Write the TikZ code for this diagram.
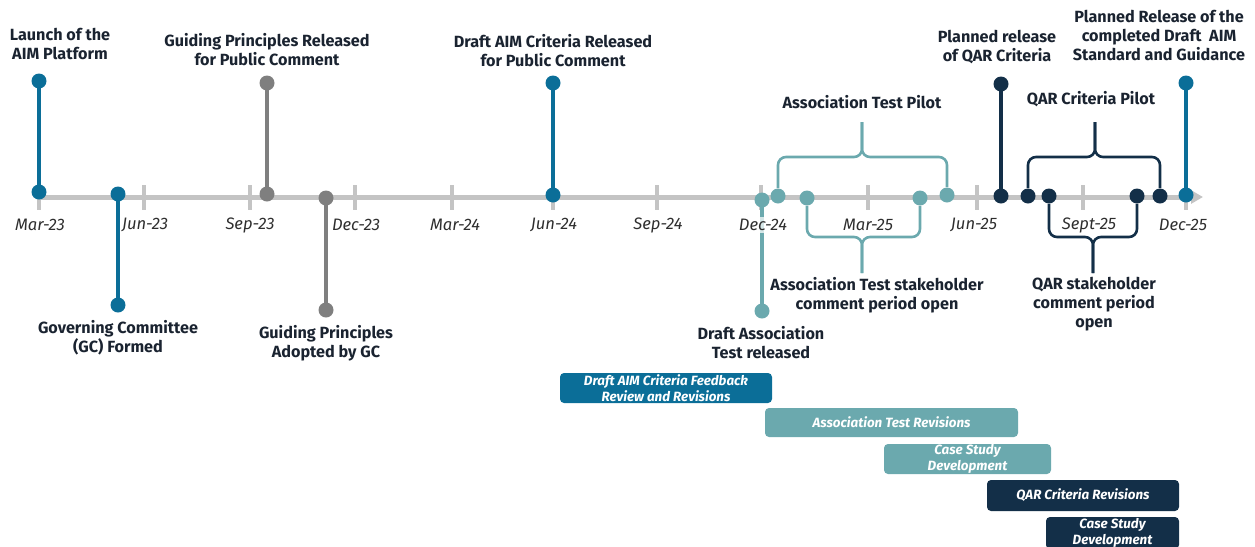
\documentclass[tikz,border=0pt]{standalone}
\usepackage{fontspec}
\setmainfont{Fira Sans}
\usetikzlibrary{arrows.meta}
\definecolor{aimblue}{HTML}{0B6E98}
\definecolor{aimteal}{HTML}{6BA9AE}
\definecolor{aimnavy}{HTML}{132F48}
\definecolor{aimgray}{HTML}{7F7F7F}
\definecolor{axisgray}{HTML}{C4C4C4}
\definecolor{ink}{HTML}{1A2330}
\definecolor{datec}{HTML}{2E2E2E}
\tikzset{
  dot/.style={circle,fill=#1,inner sep=0pt,minimum size=7.5pt},
  stem/.style={draw=#1,line width=2pt,shorten <=-1pt,shorten >=-1pt},
  brc/.style={draw=#1,line width=1.3pt,rounded corners=4pt},
  lbl/.style={text=ink,font=\fontsize{8.1}{9.5}\selectfont\bfseries,align=center,inner sep=0pt},
  tlbl/.style={text=datec,font=\fontsize{8.3}{9}\selectfont\itshape,inner sep=1pt},
  bar/.style={fill=#1,rounded corners=2pt,text=white,font=\fontsize{6.7}{8}\selectfont\bfseries\itshape,align=center,inner sep=0pt},
}
\begin{document}
\begin{tikzpicture}[x=0.5pt,y=-0.5pt]
\useasboundingbox (0,0) rectangle (1255,547);
% time axis
\coordinate (ax0) at (39,197);
\coordinate (ax1) at (1203,197);
\draw[axisgray,line width=2.5pt,-{Triangle[width=6.5pt,length=6pt]}] (ax0) -- (ax1);
\foreach \x/\d/\lx [count=\i] in {39/Mar-23/40,144/Jun-23/145,250/Sep-23/250,355/Dec-23/356,
    452/Mar-24/455,553/Jun-24/554,657/Sep-24/658,868/Mar-25/868,977/Jun-25/974,
    1083/Sept-25/1089,1186/Dec-25/1183}{
  \draw[axisgray,line width=2pt] (\x,185) -- (\x,210);
  \node[tlbl] (tick\i) at (\lx,225) {\d};
}
\draw[axisgray,line width=2pt] (761,185) -- (761,210);

% milestone dots
\node[dot=aimblue] (launchT) at (39,81) {};
\node[dot=aimblue] (launchB) at (39,192) {};
\node[dot=aimblue] (gcT) at (118,194) {};
\node[dot=aimblue] (gcB) at (118,305) {};
\node[dot=aimgray] (gprT) at (267,83) {};
\node[dot=aimgray] (gprB) at (267,194) {};
\node[dot=aimgray] (gpaT) at (326,198) {};
\node[dot=aimgray] (gpaB) at (326,310) {};
\node[dot=aimblue] (draftT) at (553,83) {};
\node[dot=aimblue] (draftB) at (553,195) {};
\node[dot=aimteal] (datT) at (762,200) {};
\node[dot=aimteal] (datB) at (762,311) {};
\node[dot=aimnavy] (qarT) at (1001,84) {};
\node[dot=aimnavy] (qarB) at (1001,196) {};
\node[dot=aimblue] (finalT) at (1186,83) {};
\node[dot=aimblue] (finalB) at (1186,195) {};
% pilot and comment periods
\node[dot=aimteal] (atp1) at (778,196) {};
\node[dot=aimteal] (atp2) at (947,195) {};
\node[dot=aimteal] (atc1) at (807,198) {};
\node[dot=aimteal] (atc2) at (920,198) {};
\node[dot=aimnavy] (qp1) at (1028,196) {};
\node[dot=aimnavy] (qp2) at (1160,196) {};
\node[dot=aimnavy] (qc1) at (1049,196) {};
\node[dot=aimnavy] (qc2) at (1137,196) {};

% stems
\draw[stem=aimblue] (launchT) -- (launchB);
\draw[stem=aimblue] (gcT) -- (gcB);
\draw[stem=aimgray] (gprT) -- (gprB);
\draw[stem=aimgray] (gpaT) -- (gpaB);
\draw[stem=aimblue] (draftT) -- (draftB);
\draw[stem=aimteal] (datT) -- (datB);
\draw[stem=aimnavy] (qarT) -- (qarB);
\draw[stem=aimblue] (finalT) -- (finalB);
\node[tlbl,fill=white,fill opacity=.72,text opacity=1] (tick12) at (763,225) {Dec-24};

% braces
\coordinate (atpTip) at (862,122);
\coordinate (atcTip) at (862,273);
\coordinate (qpTip) at (1095,122);
\coordinate (qcTip) at (1093,273);
\draw[brc=aimteal] (atp1) |- (862,157) -- (atpTip);
\draw[brc=aimteal] (atp2) |- (862,157) -- (atpTip);
\draw[brc=aimteal] (atc1) |- (862,237) -- (atcTip);
\draw[brc=aimteal] (atc2) |- (862,237) -- (atcTip);
\draw[brc=aimnavy] (qp1) |- (1095,157) -- (qpTip);
\draw[brc=aimnavy] (qp2) |- (1095,157) -- (qpTip);
\draw[brc=aimnavy] (qc1) |- (1093,237) -- (qcTip);
\draw[brc=aimnavy] (qc2) |- (1093,237) -- (qcTip);

% labels
\node[lbl] (launchL) at (60,44) {Launch of the\\AIM Platform};
\node[lbl] (gprL) at (267,50) {Guiding Principles Released\\for Public Comment};
\node[lbl] (draftL) at (553,51) {Draft AIM Criteria Released\\for Public Comment};
\node[lbl] (atpL) at (862,102) {Association Test Pilot};
\node[lbl] (qarL) at (997,47) {Planned release\\of QAR Criteria};
\node[lbl] (qpL) at (1091,99) {QAR Criteria Pilot};
\node[lbl] (finalL) at (1159,35) {Planned Release of the\\completed Draft~ AIM\\Standard and Guidance};
\node[lbl] (gcL) at (118,338) {Governing Committee\\(GC) Formed};
\node[lbl] (gpaL) at (326,343) {Guiding Principles\\Adopted by GC};
\node[lbl] (datL) at (761,343) {Draft Association\\Test released};
\node[lbl] (atcL) at (877,295) {Association Test stakeholder\\comment period open};
\node[lbl] (qcL) at (1094,304) {QAR stakeholder\\comment period\\open};

% work streams
\node[bar=aimblue,minimum width=106pt,minimum height=15pt] (bar1) at (666,388) {Draft AIM Criteria Feedback\\Review and Revisions};
\node[bar=aimteal,minimum width=126.5pt,minimum height=14.5pt] (bar2) at (891.5,422.5) {Association Test Revisions};
\node[bar=aimteal,minimum width=83.5pt,minimum height=15pt] (bar3) at (967.5,459) {Case Study\\Development};
\node[bar=aimnavy,minimum width=96pt,minimum height=15.5pt] (bar4) at (1083,495.5) {QAR Criteria Revisions};
\node[bar=aimnavy,minimum width=66.5pt,minimum height=16pt] (bar5) at (1112.5,533) {Case Study\\Development};
\end{tikzpicture}
\end{document}
